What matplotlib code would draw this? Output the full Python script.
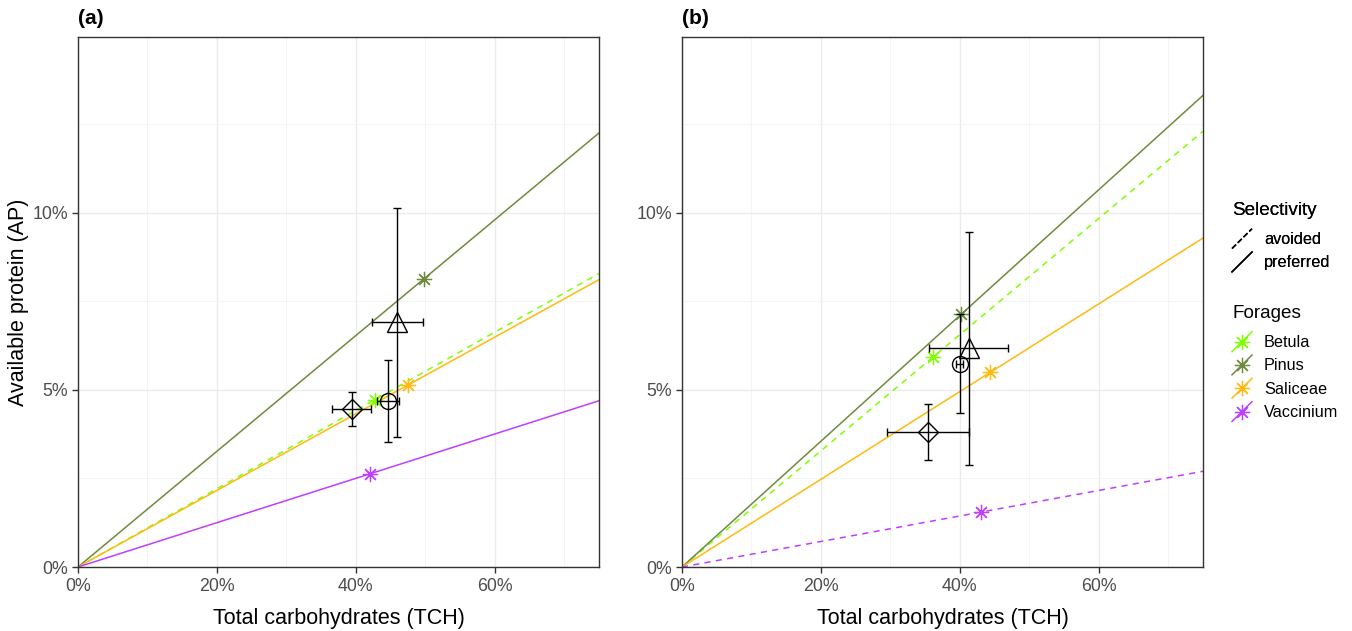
import matplotlib
matplotlib.use("Agg")
import matplotlib.pyplot as plt
from matplotlib.lines import Line2D
from matplotlib.legend_handler import HandlerBase
from matplotlib.ticker import FuncFormatter, MultipleLocator

plt.rcParams['font.family'] = ['Liberation Sans', 'DejaVu Sans']

# ---------------- data ----------------
forages = ['Betula', 'Pinus', 'Saliceae', 'Vaccinium']
forage_colors = ['#7FFF00', '#6E8B3D', '#FFB90F', '#BF3EFF']

# panel (a)
a_tch = [42.7, 49.8, 47.5, 42.0]
a_ap = [4.72, 8.14, 5.14, 2.63]
a_sel = ['avoided', 'preferred', 'preferred', 'preferred']

# panel (b)
b_tch = [36.2, 40.2, 44.4, 43.0]
b_ap = [5.94, 7.14, 5.50, 1.55]
b_sel = ['avoided', 'preferred', 'preferred', 'avoided']

# diet points (mean with ranges)
diet_shapes = ['^', 'o', 'D']
a_diet_tch = [45.9, 44.6, 39.4]
a_diet_tch_lo = [42.3, 43.0, 36.5]
a_diet_tch_hi = [49.6, 46.2, 42.2]
a_diet_ap = [6.93, 4.69, 4.46]
a_diet_ap_lo = [3.67, 3.54, 3.98]
a_diet_ap_hi = [10.14, 5.85, 4.93]

b_diet_tch = [41.3, 40.0, 35.4]
b_diet_tch_lo = [35.5, 39.5, 29.5]
b_diet_tch_hi = [47.0, 40.5, 41.3]
b_diet_ap = [6.18, 5.73, 3.80]
b_diet_ap_lo = [2.88, 4.36, 3.02]
b_diet_ap_hi = [9.45, 7.14, 4.60]

x_ticks = [0, 20, 40, 60]
y_ticks = [0, 5, 10]
x_max = 75
y_max = 14.97

sel_dash = {'avoided': (0, (4, 3.5)), 'preferred': '-'}

# ---------------- figure ----------------
W, H = 1352, 631
fig = plt.figure(figsize=(W / 100, H / 100), dpi=100)


def frac(x0, y0, x1, y1):
    return [x0 / W, 1 - y1 / H, (x1 - x0) / W, (y1 - y0) / H]


ax_a = fig.add_axes(frac(78, 37, 599, 567))
ax_b = fig.add_axes(frac(682, 37, 1203, 567))

pct = FuncFormatter(lambda v, p: f"{v:.0f}%")


def draw_panel(ax, tch, ap, sel, dt, dtl, dth, da, dal, dah, label):
    ax.set_xlim(0, x_max)
    ax.set_ylim(0, y_max)
    ax.set_xticks(x_ticks)
    ax.set_yticks(y_ticks)
    ax.xaxis.set_minor_locator(MultipleLocator(10))
    ax.yaxis.set_minor_locator(MultipleLocator(2.5))
    ax.xaxis.set_major_formatter(pct)
    ax.yaxis.set_major_formatter(pct)
    ax.grid(which='major', color='#EBEBEB', lw=1.0, zorder=0)
    ax.grid(which='minor', color='#F2F2F2', lw=0.6, zorder=0)
    ax.set_axisbelow(True)
    for s in ax.spines.values():
        s.set_color('#333333')
        s.set_linewidth(1.0)
    ax.tick_params(which='major', length=4, width=1, color='#333333',
                   labelcolor='#4D4D4D', labelsize=12.8, pad=3)
    ax.tick_params(axis='x', which='major', pad=4)
    ax.tick_params(which='minor', length=0)
    ax.set_xlabel('Total carbohydrates (TCH)', fontsize=15.5, labelpad=9)

    for t, a, s, c in zip(tch, ap, sel, forage_colors):
        ax.axline((0, 0), slope=a / t, color=c, lw=1.1, linestyle=sel_dash[s],
                  zorder=2)
        ax.plot([t], [a], marker=(8, 2, 0), ms=11, mew=0.9, color=c,
                linestyle='none', zorder=4)

    for i, m in enumerate(diet_shapes):
        ax.errorbar([dt[i]], [da[i]],
                    xerr=[[dt[i] - dtl[i]], [dth[i] - dt[i]]],
                    yerr=[[da[i] - dal[i]], [dah[i] - da[i]]],
                    fmt='none', ecolor='black', elinewidth=1.0, capsize=3,
                    capthick=1.0, zorder=5)
        ms = {'^': 14, 'o': 11.5, 'D': 9.8}[m]
        ax.plot([dt[i]], [da[i]], marker=m, ms=ms, mfc='none', mec='black',
                mew=1.0, linestyle='none', zorder=6)

    ax.text(0, 1.017, label, transform=ax.transAxes, fontsize=15,
            fontweight='bold', ha='left', va='bottom')


draw_panel(ax_a, a_tch, a_ap, a_sel, a_diet_tch, a_diet_tch_lo, a_diet_tch_hi,
           a_diet_ap, a_diet_ap_lo, a_diet_ap_hi, '(a)')
draw_panel(ax_b, b_tch, b_ap, b_sel, b_diet_tch, b_diet_tch_lo, b_diet_tch_hi,
           b_diet_ap, b_diet_ap_lo, b_diet_ap_hi, '(b)')
ax_a.set_ylabel('Available protein (AP)', fontsize=15.5, labelpad=2.5)


# ---------------- legends ----------------
class DiagHandler(HandlerBase):
    def create_artists(self, legend, orig_handle, xdescent, ydescent, width,
                       height, fontsize, trans):
        x0, y0 = -xdescent, -ydescent
        ln = Line2D([x0, x0 + width], [y0, y0 + height],
                    color=orig_handle.get_color(),
                    linestyle=orig_handle.get_linestyle(),
                    lw=orig_handle.get_linewidth(), transform=trans)
        arts = [ln]
        if orig_handle.get_marker() not in (None, 'None', 'none', ''):
            mk = Line2D([x0 + width / 2], [y0 + height / 2],
                        marker=orig_handle.get_marker(),
                        ms=orig_handle.get_markersize(),
                        mew=orig_handle.get_markeredgewidth(),
                        color=orig_handle.get_color(), linestyle='none',
                        transform=trans)
            arts.append(mk)
        return arts


sel_handles = [Line2D([], [], color='black', lw=1.1, linestyle=sel_dash[k])
               for k in ['avoided', 'preferred']]
for_handles = [Line2D([], [], color=c, lw=1.1, marker=(8, 2, 0), ms=11, mew=0.9)
               for c in forage_colors]
hmap = {h: DiagHandler() for h in sel_handles + for_handles}

leg_fs = 11.7
common = dict(frameon=False, loc='upper left', borderpad=0, borderaxespad=0,
              handlelength=1.23, handleheight=1.5, handletextpad=0.74,
              labelspacing=0.215, fontsize=leg_fs, title_fontsize=13.6,
              alignment='left', handler_map=hmap)
leg1 = fig.legend(sel_handles, ['avoided', 'preferred'], title='Selectivity',
                  bbox_to_anchor=(1232 / W, 1 - 202 / H), **common)
leg2 = fig.legend(for_handles, forages, title='Forages',
                  bbox_to_anchor=(1232 / W, 1 - 305 / H), **common)
for lg in (leg1, leg2):
    lg._legend_box.sep = 7
fig.add_artist(leg1)

fig.savefig('out.png', dpi=100)
